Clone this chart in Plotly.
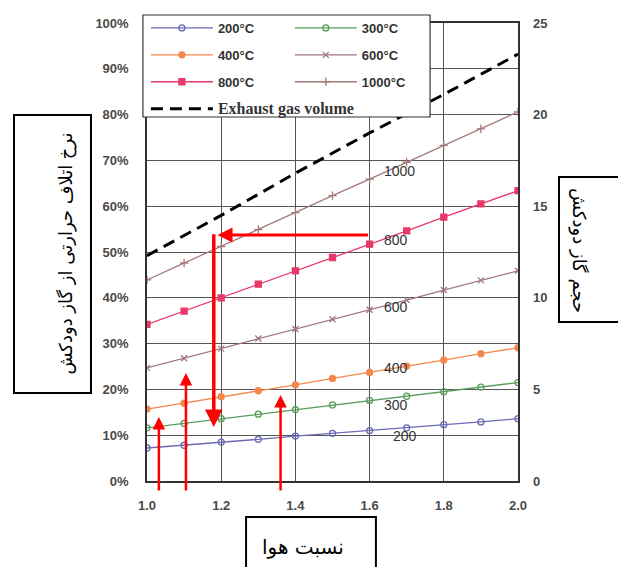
import plotly.graph_objects as go

# ---------------- data ----------------
air_ratio = [1.0, 1.1, 1.2, 1.3, 1.4, 1.5, 1.6, 1.7, 1.8, 1.9, 2.0]
loss_200 = [7.2, 7.8, 8.5, 9.1, 9.8, 10.4, 11.0, 11.6, 12.3, 12.9, 13.6]
loss_300 = [11.6, 12.6, 13.6, 14.6, 15.6, 16.6, 17.6, 18.5, 19.5, 20.5, 21.5]
loss_400 = [15.7, 17.0, 18.4, 19.7, 21.0, 22.4, 23.7, 25.1, 26.4, 27.8, 29.1]
loss_600 = [24.7, 26.8, 28.9, 31.1, 33.2, 35.3, 37.4, 39.5, 41.7, 43.8, 45.9]
loss_800 = [34.2, 37.1, 40.0, 43.0, 45.9, 48.8, 51.7, 54.6, 57.6, 60.5, 63.4]
loss_1000 = [43.9, 47.6, 51.2, 54.9, 58.6, 62.3, 65.9, 69.6, 73.3, 76.9, 80.6]

gas_x = [1.0, 1.2, 1.4, 1.6, 1.8, 2.0]
gas_volume = [12.3, 14.5, 16.8, 19.0, 21.1, 23.3]

series_names = ["200°C", "300°C", "400°C", "600°C", "800°C", "1000°C"]
inline_labels = ["200", "300", "400", "600", "800", "1000"]
label_x = [1.695, 1.67, 1.67, 1.67, 1.67, 1.681]
label_y = [9.8, 16.6, 24.7, 38.0, 52.6, 67.7]

x_ticks = [1.0, 1.2, 1.4, 1.6, 1.8, 2.0]
left_ticks = [0, 10, 20, 30, 40, 50, 60, 70, 80, 90, 100]
right_ticks = [0, 5, 10, 15, 20, 25]

# red arrows: (head_x, head_y, tail_x, tail_y)
up_arrows = [(1.032, 14.0, 1.032, -2.4), (1.105, 23.6, 1.105, -2.4), (1.36, 18.8, 1.36, -2.4)]
horiz_arrow = (1.19, 53.7, 1.6, 53.7)
down_arrow = (1.18, 11.8, 1.18, 54.2)

left_title = "نرخ اتلاف حرارتی از گاز دودکش"
right_title = "حجم گاز دودکش"
bottom_title = "نسبت هوا"

# ---------------- styles ----------------
colors = ["#6a6ab4", "#5a9c5a", "#f4874b", "#a07585", "#e8386a", "#a47a7a"]
symbols = ["circle-open", "circle-open", "circle", "x-thin-open", "square", "cross-thin-open"]
msizes = [6, 6, 6, 6, 6, 6]
legend_of = ["legend", "legend2", "legend", "legend2", "legend", "legend2"]
series = [loss_200, loss_300, loss_400, loss_600, loss_800, loss_1000]

fig = go.Figure()
for i, (name, ys) in enumerate(zip(series_names, series)):
    fig.add_trace(go.Scatter(
        x=air_ratio, y=ys, name=name, mode="lines+markers",
        line=dict(color=colors[i], width=1.3),
        marker=dict(symbol=symbols[i], size=msizes[i], color=colors[i],
                    line=dict(color=colors[i], width=1.3)),
        legend=legend_of[i], legendgroup=name,
    ))

fig.add_trace(go.Scatter(
    x=gas_x, y=gas_volume, yaxis="y2",
    name="<span style='font-family:Liberation Serif;font-size:16px'><b>Exhaust gas volume</b></span>",
    mode="lines", line=dict(color="black", width=3, dash="12px,7px"),
    legend="legend", legendgroup="gas",
))

for txt, lx, ly in zip(inline_labels, label_x, label_y):
    fig.add_annotation(x=lx, y=ly, text=txt, showarrow=False, xanchor="center", yanchor="middle",
                       font=dict(family="Liberation Sans", size=14, color="#333"))

arrow_common = dict(xref="x", yref="y", axref="x", ayref="y", text="", showarrow=True,
                    arrowcolor="#ff0000", arrowhead=2, arrowsize=1)
for hx, hy, tx, ty in up_arrows:
    fig.add_annotation(x=hx, y=hy, ax=tx, ay=ty, arrowwidth=2.5, **arrow_common)
fig.add_annotation(x=horiz_arrow[0], y=horiz_arrow[1], ax=horiz_arrow[2], ay=horiz_arrow[3],
                   arrowwidth=3, **arrow_common)
fig.add_annotation(x=down_arrow[0], y=down_arrow[1], ax=down_arrow[2], ay=down_arrow[3],
                   arrowwidth=3.5, **arrow_common)

# legend box (white, above the traces)
fig.add_shape(type="rect", xref="paper", yref="paper", x0=-0.011, x1=0.763, y0=0.7778, y1=0.9957,
              fillcolor="white", line=dict(color="#333", width=1.2), layer="above")

# title boxes
box_line = dict(color="black", width=2)
fig.add_shape(type="rect", xref="paper", yref="paper", x0=-0.3585, x1=-0.151, y0=0.188, y1=0.782,
              fillcolor="white", line=box_line, layer="above")
fig.add_shape(type="rect", xref="paper", yref="paper", x0=1.1105, x1=1.288, y0=0.3397, y1=0.6496,
              fillcolor="white", line=box_line, layer="above")
fig.add_shape(type="rect", xref="paper", yref="paper", x0=0.267, x1=0.617, y0=-0.25, y1=-0.0769,
              fillcolor="white", line=box_line, layer="above")

title_font = dict(family="DejaVu Sans", size=18, color="black")
fig.add_annotation(xref="paper", yref="paper", x=-0.2545, y=0.485, text=left_title, textangle=-90,
                   showarrow=False, font=title_font)
fig.add_annotation(xref="paper", yref="paper", x=1.1995, y=0.4936, text=right_title, textangle=90,
                   showarrow=False, font=title_font)
fig.add_annotation(xref="paper", yref="paper", x=0.42, y=-0.171, text=bottom_title,
                   showarrow=False, font=dict(family="DejaVu Sans", size=20, color="black"))

tick_font = dict(family="Liberation Sans", size=13, color="#4a4a4a", weight="bold")
legend_font = dict(family="Liberation Sans", size=13, color="#333", weight="bold")

fig.update_layout(
    width=618, height=559,
    margin=dict(l=139, r=108, t=5, b=86),
    paper_bgcolor="white", plot_bgcolor="white",
    xaxis=dict(range=[1.0, 2.0], tickvals=x_ticks, ticktext=[f"{v:.1f}" for v in x_ticks],
               showgrid=True, gridcolor="#555", gridwidth=1, zeroline=False,
               showline=True, linecolor="#333", linewidth=1.5, mirror=True,
               tickfont=tick_font, ticks="", ticklabelstandoff=12, automargin=False),
    yaxis=dict(range=[0, 100], domain=[0, 0.97863], tickvals=left_ticks,
               ticktext=[f"{v}%" for v in left_ticks],
               showgrid=True, gridcolor="#555", gridwidth=1, zeroline=False,
               showline=True, linecolor="#333", linewidth=1.5, mirror=True,
               tickfont=tick_font, ticks="", ticklabelstandoff=14, automargin=False),
    yaxis2=dict(range=[0, 25], tickvals=right_ticks, overlaying="y", side="right",
                showgrid=False, zeroline=False, showline=False,
                tickfont=tick_font, ticks="", ticklabelstandoff=14, automargin=False),
    legend=dict(x=-0.003, y=1.0, xanchor="left", yanchor="top",
                bgcolor="rgba(0,0,0,0)",
                borderwidth=0, font=legend_font, tracegroupgap=7, itemwidth=62,
                traceorder="grouped"),
    legend2=dict(x=0.385, y=1.0, xanchor="left", yanchor="top",
                 bgcolor="rgba(0,0,0,0)",
                 borderwidth=0, font=legend_font, tracegroupgap=7, itemwidth=62,
                 traceorder="grouped"),
    showlegend=True,
)

fig.write_html("out.html")
